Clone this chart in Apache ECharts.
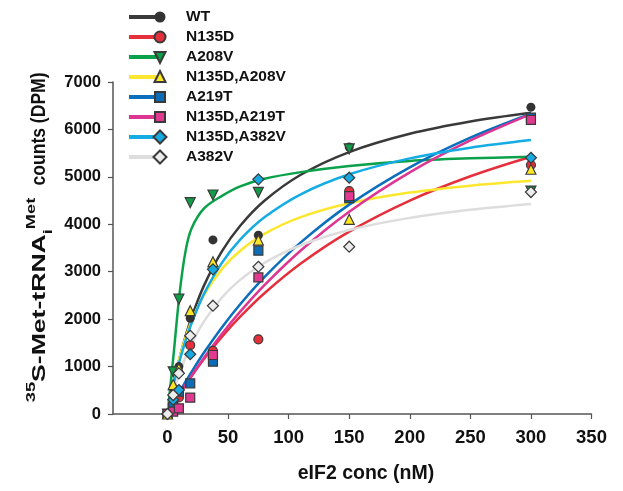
<!DOCTYPE html>
<html>
<head>
<meta charset="utf-8">
<script src="https://cdn.jsdelivr.net/npm/echarts@6/dist/echarts.min.js"></script>
<style>
html,body{margin:0;padding:0;background:#fff;}
#chart{width:623px;height:491px;}
</style>
</head>
<body>
<div id="chart"></div>
<script>
// ---- data ----
const seriesNames = ['WT', 'N135D', 'A208V', 'N135D,A208V', 'A219T', 'N135D,A219T', 'N135D,A382V', 'A382V'];
const xTicks = [0, 50, 100, 150, 200, 250, 300, 350];
const yTicks = [0, 1000, 2000, 3000, 4000, 5000, 6000, 7000];

// measured points: eIF2 concentration (nM)
const conc = [0, 4.69, 9.375, 18.75, 37.5, 75, 150, 300];
const ptsWT        = [0, 550, 1000, 2020, 3670, 3770, 5630, 6470];
const ptsN135D     = [0, 200, 350, 1450, 1330, 1575, 4700, 5250];
const ptsA208V     = [0, 890, 2420, 4455, 4617, 4673, 5590, 4700];
const ptsN135DA208V= [0, 620, 960, 2178, 3210, 3668, 4104, 5160];
const ptsA219T     = [0, 150, 470, 647, 1103, 3443, 4550, 6250];
const ptsN135DA219T= [0, 50, 120, 344, 1244, 2881, 4595, 6200];
const ptsN135DA382V= [0, 300, 506, 1260, 3050, 4947, 4982, 5403];
const ptsA382V     = [0, 400, 858, 1650, 2283, 3105, 3527, 4680];

// fitted curves, values
const curveX = [0, 2.5, 5, 10, 15, 20, 30, 45, 60, 80, 110, 150, 200, 250, 300];
const fitWT        = [0, 337, 644, 1186, 1649, 2048, 2701, 3432, 3969, 4496, 5044, 5523, 5908, 6167, 6352];
const fitN135D     = [0, 109, 215, 420, 616, 803, 1154, 1629, 2051, 2546, 3172, 3844, 4499, 5012, 5424];
const fitA208V     = [0, 620, 1250, 2550, 3450, 3920, 4330, 4600, 4800, 4960, 5100, 5230, 5335, 5390, 5424];
const fitN135DA208V= [0, 358, 672, 1197, 1620, 1967, 2504, 3060, 3443, 3799, 4150, 4442, 4668, 4815, 4918];
const fitA219T     = [0, 120, 238, 466, 685, 895, 1290, 1830, 2314, 2886, 3618, 4414, 5201, 5825, 6330];
const fitN135DA219T= [0, 108, 214, 422, 622, 815, 1183, 1693, 2158, 2717, 3448, 4265, 5094, 5767, 6324];
const fitN135DA382V= [0, 321, 613, 1123, 1555, 1925, 2527, 3192, 3675, 4146, 4632, 5054, 5390, 5615, 5776];
const fitA382V     = [0, 248, 474, 868, 1201, 1486, 1948, 2458, 2828, 3188, 3558, 3879, 4135, 4305, 4427];

// ---- styling ----
const lineColors = ['#3a3a3a', '#e5303c', '#0ba14b', '#fde72e', '#0a6fbd', '#df3592', '#15ace4', '#dddddd'];
const fillColors = ['#333333', '#e5303c', '#0f9d47', '#fde725', '#0b6db8', '#e0398f', '#17a9e1', '#ececec'];
const symbols = ['circle', 'circle', 'triangle', 'triangle', 'rect', 'rect', 'diamond', 'diamond'];
const symbolRot = [0, 0, 180, 0, 0, 0, 0, 0];
const symbolSizes = [9, 9, 10, 10, 9, 9, 11, 11];

const pts = [ptsWT, ptsN135D, ptsA208V, ptsN135DA208V, ptsA219T, ptsN135DA219T, ptsN135DA382V, ptsA382V];
const fits = [fitWT, fitN135D, fitA208V, fitN135DA208V, fitA219T, fitN135DA219T, fitN135DA382V, fitA382V];
const drawOrder = [0, 1, 2, 4, 5, 3, 6, 7];

const FONT = '"Liberation Sans", Arial, Helvetica, sans-serif';

const series = [];
fits.forEach((f, i) => {
  series.push({
    type: 'line', name: seriesNames[i] + ' fit',
    data: curveX.map((x, k) => [x, f[k]]),
    smooth: 0.35, showSymbol: false, symbol: 'none',
    lineStyle: { color: lineColors[i], width: 2.5 },
    z: 2, silent: true
  });
});
drawOrder.forEach((i, n) => {
  series.push({
    type: 'scatter', name: seriesNames[i],
    data: conc.map((x, k) => [x, pts[i][k]]),
    symbol: symbols[i], symbolRotate: symbolRot[i], symbolSize: symbolSizes[i],
    itemStyle: { color: fillColors[i], borderColor: '#3a3a3a', borderWidth: i === 0 ? 0 : 1.2, opacity: 1 },
    z: 3 + n, clip: false
  });
});

// legend drawn as graphic elements
const legendGraphic = [];
seriesNames.forEach((name, i) => {
  const y = 17 + i * 20;
  const mx = 160;
  legendGraphic.push({ type: 'line', shape: { x1: 129, y1: y, x2: 157, y2: y },
    style: { stroke: lineColors[i], lineWidth: 4 } });
  const st = { fill: fillColors[i], stroke: '#3a3a3a', lineWidth: i === 0 ? 0 : 2 };
  let el;
  if (symbols[i] === 'circle') el = { type: 'circle', shape: { cx: mx, cy: y, r: 5.5 }, style: st };
  else if (symbols[i] === 'rect') el = { type: 'rect', shape: { x: mx - 5, y: y - 5, width: 10, height: 10 }, style: st };
  else if (symbols[i] === 'diamond') el = { type: 'polygon', shape: { points: [[mx, y - 6.5], [mx + 6.5, y], [mx, y + 6.5], [mx - 6.5, y]] }, style: st };
  else if (symbolRot[i] === 180) el = { type: 'polygon', shape: { points: [[mx - 5.5, y - 5], [mx + 5.5, y - 5], [mx, y + 6]] }, style: st };
  else el = { type: 'polygon', shape: { points: [[mx - 5.5, y + 5], [mx + 5.5, y + 5], [mx, y - 6]] }, style: st };
  legendGraphic.push(el);
  legendGraphic.push({ type: 'text', x: 186, y: y,
    style: { text: name, fill: '#111', font: 'bold 15.5px ' + FONT, verticalAlign: 'middle', align: 'left' } });
});

const chart = echarts.init(document.getElementById('chart'), null, { renderer: 'canvas' });
chart.setOption({
  animation: false,
  backgroundColor: '#fff',
  grid: { left: 113, right: 31.5, top: 82, bottom: 77, containLabel: false },
  xAxis: {
    type: 'value', min: -45, max: 350,
    axisLine: { show: true, onZero: false, lineStyle: { color: '#555', width: 1.5 } },
    axisTick: { show: true, length: 5, customValues: xTicks, lineStyle: { color: '#555', width: 1.2 } },
    axisLabel: { customValues: xTicks, fontSize: 18.5, fontWeight: 'bold', color: '#111', margin: 14, fontFamily: FONT,
      formatter: v => String(v) },
    splitLine: { show: false }
  },
  yAxis: {
    type: 'value', min: yTicks[0], max: yTicks[yTicks.length - 1], interval: 1000,
    axisLine: { show: true, onZero: false, lineStyle: { color: '#555', width: 1.5 } },
    axisTick: { show: true, length: 5, lineStyle: { color: '#555', width: 1.2 } },
    axisLabel: { fontSize: 16.5, fontWeight: 'bold', color: '#111', margin: 12, fontFamily: FONT,
      formatter: v => String(v) },
    splitLine: { show: false }
  },
  graphic: legendGraphic.concat([
    { type: 'text', x: 366, y: 474,
      style: { text: 'eIF2 conc (nM)', fill: '#111', font: 'bold 19.5px ' + FONT, align: 'center', verticalAlign: 'middle' } },
    { type: 'text', x: 40, y: 300, rotation: Math.PI / 2, scaleX: 1.4,
      style: {
        text: '{sup|35}{b|S-Met-tRNA}{sub|i}{sup|Met}',
        align: 'center', verticalAlign: 'middle',
        rich: {
          b: { font: 'bold 19px ' + FONT, fill: '#111', lineHeight: 30, verticalAlign: 'middle' },
          sup: { font: 'bold 13px ' + FONT, fill: '#111', lineHeight: 14, verticalAlign: 'top' },
          sub: { font: 'bold 13px ' + FONT, fill: '#111', lineHeight: 14, verticalAlign: 'bottom' }
        }
      } },
    { type: 'text', x: 40, y: 129, rotation: Math.PI / 2, scaleX: 0.9,
      style: {
        text: '{b|counts (DPM)}',
        align: 'center', verticalAlign: 'middle',
        rich: {
          b: { font: 'bold 19.5px ' + FONT, fill: '#111', lineHeight: 30, verticalAlign: 'middle' }
        }
      } }
  ]),
  series: series
});
</script>
</body>
</html>
